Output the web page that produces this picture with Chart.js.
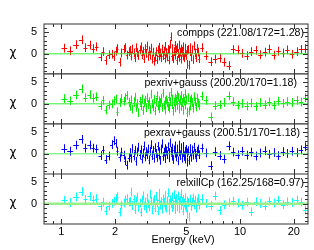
<!DOCTYPE html>
<html>
<head>
<meta charset="utf-8">
<script src="https://cdn.jsdelivr.net/npm/chart.js@4.4.1/dist/chart.umd.min.js"></script>
<style>
  html, body { margin: 0; padding: 0; background: #fff; }
  #wrap { position: relative; width: 314px; height: 250px; overflow: hidden; }
  #wrap canvas { position: absolute; left: 0; }
</style>
</head>
<body>
<div id="wrap">
  <canvas id="p0" width="314" height="74" style="top:0px"></canvas>
  <canvas id="p1" width="314" height="74" style="top:50px"></canvas>
  <canvas id="p2" width="314" height="74" style="top:100px"></canvas>
  <canvas id="p3" width="314" height="76" style="top:174px"></canvas>
</div>
<script>
// Energy bins (keV), shared by the four fits
const energy = [
  1.04, 1.12, 1.21, 1.30, 1.36, 1.44, 1.51, 1.57, 1.66, 1.72, 1.77, 1.84, 1.91, 1.96, 2.01, 2.06, 2.12, 2.17, 2.23, 2.28, 2.33, 2.38,
  2.42, 2.46, 2.50, 2.54, 2.58, 2.62, 2.66, 2.70, 2.74, 2.78, 2.82, 2.86, 2.90, 2.94, 2.98, 3.02, 3.06, 3.10, 3.14, 3.18,
  3.22, 3.26, 3.30, 3.34, 3.38, 3.42, 3.46, 3.50, 3.54, 3.58, 3.62, 3.66, 3.70, 3.74, 3.78, 3.82, 3.86, 3.90, 3.94, 3.98,
  4.02, 4.06, 4.10, 4.14, 4.18, 4.22, 4.26, 4.30, 4.34, 4.38, 4.42, 4.46, 4.50, 4.54, 4.58, 4.62, 4.66, 4.70, 4.74, 4.78,
  4.82, 4.86, 4.90, 4.94, 4.98, 5.03, 5.08, 5.13, 5.18, 5.23, 5.28, 5.34, 5.40, 5.46, 5.52, 5.58, 5.65, 5.72, 5.80, 5.88,
  6.10, 6.45, 6.85, 7.25, 7.70, 8.15, 8.65, 9.15, 9.70, 10.3, 10.9, 11.55, 12.25, 13.0, 13.8, 14.6, 15.5, 16.4, 17.4, 18.4,
  19.5, 20.7, 21.9, 23.2
];

// residuals (chi) for each model
const chiCompps = [
  1.3, 0.7, 2.1, 3.2, 1.4, 2.0, 1.2, 1.6, -0.7, 0.5, -1.5, -0.2, -0.1, -0.6, 0.6, 1.2, -1.9, 0.2, 1.0, 1.4, -0.3, 0.5,
  0.8, -0.5, 1.1, 0.2, -0.9, 1.4, 0.3, -0.4, 0.9, 1.6, -0.2, 0.6, -1.1, 1.2, 0.1, 1.8, -0.6, 0.7, -0.3, 1.3,
  -1.2, 0.4, -1.7, -0.8, 0.5, -1.3, 0.9, -0.5, 1.5, 0.2, -0.9, 1.1, -0.4, 0.6, -1.0, 1.7, 0.3, -0.7, 1.0, -1.4,
  0.8, 2.2, 3.9, -0.6, 1.2, -1.1, 0.5, 1.9, -0.3, 0.9, -1.5, 1.4, 0.1, -0.8, 2.0, 0.4, -1.2, 1.1, 0.6, -0.5,
  1.6, -0.9, 0.3, 1.3, -0.4, 0.8, -2.4, 1.0, -2.6, 0.5, 1.4, -0.7, 0.9, -1.3, 1.8, 0.2, -0.9, 1.2, 0.4, -1.1,
  1.4, -0.4, -1.8, -1.2, -1.0, -1.9, -2.7, 1.0, 0.9, 0.1, -0.4, 0.5, 0.8, -0.2, 0.4, 1.1, -0.3, 0.6, 0.2, 0.9,
  -0.1, 0.5, 1.0, 1.2
];
const chiPexriv = [
  1.2, 0.7, 2.0, 3.4, 1.4, 2.1, 1.3, 1.6, -0.4, 0.8, -1.4, -0.3, 0.0, 0.7, 1.1, -1.8, 0.3, 1.2, 0.6, 1.4, 1.9, 0.4,
  -0.6, 0.9, -1.2, 0.3, 1.5, -0.8, 0.1, -2.0, 0.6, -0.4, 1.1, -1.5, 0.2, 0.8, -0.9, 1.4, -0.2, 0.5, -1.3, 2.2,
  0.0, -0.7, 1.0, -1.6, 0.4, 1.8, -0.5, 0.7, -1.1, 0.3, 1.2, -0.8, 2.4, -0.3, 0.6, -1.4, 0.9, 0.2, -0.6, 1.6,
  -1.0, 0.5, 2.6, -0.2, 1.1, -1.7, 0.4, 1.3, -0.9, 0.7, 2.0, -0.4, 1.5, 0.1, -1.2, 0.8, 1.9, -0.6, 0.3, 1.2,
  -1.5, 0.6, 2.3, -0.3, 0.9, -2.0, -1.9, 1.4, -1.6, 0.7, -0.5, 1.1, 0.3, -1.0, 1.6, 0.5, -0.7, 1.3, 0.2, -0.4,
  1.8, 0.8, -3.0, -0.4, -0.2, 0.3, 1.8, 0.5, -0.3, 0.1, -0.5, 0.2, -0.6, 0.3, -0.2, 0.4, -0.3, 0.6, 0.1, 0.5,
  0.3, 0.8, 0.4, 1.4
];
const chiPexrav = [
  1.2, 0.6, 2.0, 3.3, 1.3, 2.0, 1.3, 1.1, -0.4, 0.8, -1.3, -0.5, 2.1, 3.0, 2.4, 0.6, -0.8, 0.4, -0.3, -1.6, -2.6, -0.9,
  0.3, -1.0, 1.2, -0.5, 0.8, -1.7, 0.4, 1.5, -0.3, 0.9, -1.2, 0.2, 1.8, -0.7, 0.5, -0.2, 1.1, -1.4, 0.6, 2.1,
  -0.4, 0.8, -1.0, 1.4, 0.1, -0.8, 1.7, -0.3, 0.5, -1.5, 1.0, 2.3, -0.6, 0.4, 1.2, -1.1, 0.7, -0.2, 1.6, 0.3,
  -0.9, 2.5, 0.6, -0.5, 1.3, -1.3, 0.9, 0.2, 1.8, -0.7, 0.4, 1.1, -1.6, 0.5, 2.0, -0.4, 0.8, 1.4, -1.0, 0.3,
  1.7, -0.6, 0.6, -1.2, 1.0, 0.2, -1.9, 0.7, -1.5, 0.4, 1.2, -0.8, 0.9, -0.3, 1.5, 0.1, -0.9, 0.6, 1.1, -0.2,
  1.3, 0.2, -2.7, 0.5, -0.4, -1.2, 1.8, 0.4, -0.2, 0.6, -0.3, 0.4, -0.5, 0.2, 0.7, -0.1, 0.3, -0.4, 0.5, 0.1,
  0.6, 0.3, 0.9, 1.6
];
const chiRelxill = [
  0.8, 0.3, 1.6, 2.8, 1.0, 1.7, 0.9, 1.2, -0.6, 0.4, -1.6, -0.5, 0.1, 0.6, 1.2, 1.6, -1.9, -0.3, 0.2, 0.9, 1.2, 0.4,
  0.5, 2.7, -0.4, 1.0, -1.3, 0.6, 1.5, -0.8, 0.2, -1.9, 0.9, 1.8, -0.5, 0.4, -1.1, 1.3, 0.0, -0.7, 2.2, 0.6,
  -1.4, 0.3, 1.0, -0.9, 1.7, 0.2, -1.6, 0.8, 2.4, -0.3, 0.5, -1.2, 1.1, 0.4, -0.6, 1.9, -1.0, 0.7, 2.5, 0.1,
  -1.5, 0.9, 0.3, -0.8, 1.6, -0.2, 2.1, 0.6, -1.3, 1.2, 0.0, -0.7, 1.8, 0.4, -1.1, 0.8, 2.3, -0.4, 0.5, -1.6,
  1.0, 0.2, -0.5, 1.4, -0.9, 0.6, -2.4, 0.3, -3.0, 0.7, 1.1, -0.6, 0.4, 1.3, -0.2, 0.8, -1.0, 0.5, 1.2, -0.3,
  1.2, 0.1, -0.4, 1.8, -1.5, -0.2, 0.3, 0.6, 0.2, -0.3, 0.4, -1.8, 0.5, 0.1, -0.4, 0.6, 0.2, 0.8, -0.2, 0.5,
  0.3, 0.9, 0.4, -1.4
];

const panelLabels = [
  "compps (221.08/172=1.28)",
  "pexriv+gauss (200.20/170=1.18)",
  "pexrav+gauss (200.51/170=1.18)",
  "relxillCp (162.25/168=0.97)"
];

const xTickLabels = [1, 2, 5, 10, 20];
const xMinorTicks = [0.9, 3, 4, 6, 7, 8, 9];
const yTickLabels = [0, 5];
const yMinorTicks = [-4, -3, -2, -1, 1, 2, 3, 4, 6];

Chart.defaults.font.family = "'Liberation Sans', Arial, sans-serif";
Chart.defaults.color = "#000";

const panels = [
  { id: "p0", chi: chiCompps, color: "#ff0000", labelRight: 4, zero: "#33ee33", zeroWidth: 1, padTop: 24 },
  { id: "p1", chi: chiPexriv, color: "#00ee00", labelRight: 11, zero: "#33ee33", zeroWidth: 1, padTop: 24 },
  { id: "p2", chi: chiPexrav, color: "#0000ff", labelRight: 8, zero: "#55ee55", zeroWidth: 1, padTop: 24 },
  { id: "p3", chi: chiRelxill, color: "#00ffff", labelRight: 4, zero: "#99ee88", zeroWidth: 2.5, padTop: 0, bottom: true }
];

// error bars (bin width x ±1 sigma), frame, ticks and texts
const residualPlugin = {
  id: "residuals",
  beforeDatasetsDraw(chart, args, opts) {
    const { ctx, chartArea: a, scales: { x, y } } = chart;
    const p = opts.panel;
    const pts = chart.getDatasetMeta(1).data;
    ctx.save();
    ctx.beginPath();
    ctx.rect(a.left, a.top, a.right - a.left, a.bottom - a.top);
    ctx.clip();
    ctx.strokeStyle = p.color;
    ctx.lineWidth = 1;
    ctx.beginPath();
    energy.forEach((e, i) => {
      const lo = i > 0 ? Math.sqrt(e * energy[i - 1]) : e * e / Math.sqrt(e * energy[i + 1]);
      const hi = i < energy.length - 1 ? Math.sqrt(e * energy[i + 1]) : e * e / lo;
      const px = Math.round(pts[i].x) + 0.5;
      const py = Math.round(pts[i].y) + 0.5;
      ctx.moveTo(x.getPixelForValue(lo), py);
      ctx.lineTo(x.getPixelForValue(hi), py);
      ctx.moveTo(px, y.getPixelForValue(p.chi[i] + 1));
      ctx.lineTo(px, y.getPixelForValue(p.chi[i] - 1));
    });
    ctx.stroke();
    ctx.restore();
  },
  afterDraw(chart, args, opts) {
    const { ctx, chartArea: a, scales: { x, y } } = chart;
    const p = opts.panel;
    ctx.save();
    ctx.strokeStyle = "#333";
    ctx.lineWidth = 1;
    ctx.strokeRect(a.left, a.top, a.right - a.left, a.bottom - a.top);

    ctx.beginPath();
    const xTick = (v, len) => {
      const px = Math.round(x.getPixelForValue(v)) + 0.5;
      ctx.moveTo(px, a.top); ctx.lineTo(px, a.top + len);
      ctx.moveTo(px, a.bottom); ctx.lineTo(px, a.bottom - len);
    };
    const yTick = (v, len) => {
      const py = Math.round(y.getPixelForValue(v)) + 0.5;
      ctx.moveTo(a.left, py); ctx.lineTo(a.left + len, py);
      ctx.moveTo(a.right, py); ctx.lineTo(a.right - len, py);
    };
    xTickLabels.forEach(v => xTick(v, 5));
    xMinorTicks.forEach(v => xTick(v, 3));
    yTickLabels.forEach(v => yTick(v, 5));
    yMinorTicks.forEach(v => yTick(v, 3));
    ctx.stroke();

    ctx.fillStyle = "#000";
    ctx.textBaseline = "middle";

    // y tick labels
    ctx.textAlign = "right";
    ctx.font = "11px 'Liberation Sans'";
    yTickLabels.forEach(v => ctx.fillText(String(v), a.left - 7, y.getPixelForValue(v)));

    ctx.font = "10.6px 'Liberation Sans'";
    ctx.fillText(p.label, a.right - p.labelRight, a.top + 9.5);

    ctx.textAlign = "center";
    ctx.font = "12px 'DejaVu Sans'";
    ctx.fillText("χ", 13, y.getPixelForValue(0) - 1);

    if (p.bottom) {
      ctx.font = "10.8px 'Liberation Sans'";
      ctx.fillText("Energy (keV)", (a.left + a.right) / 2 + 7, a.bottom + 16);
    }
    ctx.restore();
  }
};

// keep the plot area fixed: no extra room for half labels at the edges
const noEdgePadding = s => {
  s.paddingTop = 0; s.paddingBottom = 0; s.paddingLeft = 0; s.paddingRight = 0;
};

panels.forEach((p, k) => {
  p.label = panelLabels[k];
  new Chart(document.getElementById(p.id), {
    type: "scatter",
    data: {
      datasets: [
        {
          type: "line",
          data: [{ x: 0.8, y: 0 }, { x: 24, y: 0 }],
          borderColor: p.zero,
          borderWidth: p.zeroWidth,
          pointRadius: 0
        },
        {
          data: energy.map((e, i) => ({ x: e, y: p.chi[i] })),
          pointRadius: 0,
          pointHoverRadius: 0
        }
      ]
    },
    options: {
      responsive: false,
      animation: false,
      devicePixelRatio: 1,
      layout: { padding: { left: 0, right: 6, top: p.padTop, bottom: 0 } },
      plugins: {
        legend: { display: false },
        tooltip: { enabled: false },
        residuals: { panel: p }
      },
      scales: {
        x: {
          type: "logarithmic",
          min: 0.8,
          max: 24,
          display: !!p.bottom,
          grid: { display: false, drawTicks: false },
          border: { display: false },
          afterBuildTicks: s => { s.ticks = xTickLabels.map(v => ({ value: v })); },
          afterFit: s => { s.height = p.bottom ? 26 : 0; noEdgePadding(s); },
          ticks: {
            autoSkip: false,
            maxRotation: 0,
            padding: 1,
            font: { size: 11 },
            callback: v => String(v)
          }
        },
        y: {
          min: -4.6,
          max: 6.8,
          grid: { display: false, drawTicks: false },
          border: { display: false },
          afterFit: s => { s.width = 44; noEdgePadding(s); },
          ticks: { display: false }
        }
      }
    },
    plugins: [residualPlugin]
  });
});
</script>
</body>
</html>
